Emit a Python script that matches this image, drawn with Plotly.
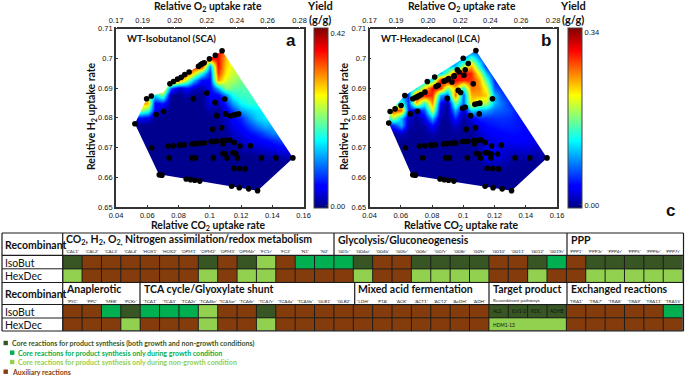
import numpy as np
import plotly.graph_objects as go

W, H = 685, 377

# =====================================
# DATA: yield surfaces (% of colour bar top), rows bottom to top
# =====================================
GRID_X = [0.05, 0.055, 0.06, 0.065, 0.07, 0.075, 0.08, 0.085, 0.09, 0.095, 0.10,
          0.105, 0.11, 0.115, 0.12, 0.125, 0.13, 0.135, 0.14, 0.145, 0.15, 0.155]
GRID_Y = [0.655, 0.6575, 0.66, 0.6625, 0.665, 0.6675, 0.67, 0.6725, 0.675, 0.6775,
          0.68, 0.6825, 0.685, 0.6875, 0.69, 0.6925, 0.695, 0.6975, 0.70, 0.7025]

yield_a = [
    [0] * 22,
    [0] * 22,
    [0] * 22,
    [0] * 22,
    [0] * 22,
    [0, 0, 0, 0, 0, 0, 0, 0, 0, 0, 0, 0, 0, 0, 0, 0, 1, 2, 3, 4, 5, 5],
    [0, 0, 0, 0, 0, 0, 0, 0, 0, 0, 0, 0, 0, 0, 3, 4, 6, 7, 9, 11, 12, 12],
    [0, 0, 0, 0, 0, 0, 0, 0, 0, 0, 0, 0, 0, 3, 5, 8, 10, 12, 15, 18, 18, 18],
    [0, 0, 0, 0, 0, 0, 0, 0, 0, 0, 0, 0, 1, 5, 8, 12, 15, 20, 25, 25, 25, 25],
    [0, 0, 0, 0, 0, 0, 0, 0, 0, 0, 0, 0, 3, 8, 12, 18, 25, 30, 30, 30, 30, 30],
    [10, 10, 8, 0, 0, 0, 0, 0, 0, 0, 0, 0, 5, 12, 15, 25, 33, 36, 36, 36, 36, 36],
    [55, 55, 45, 10, 3, 0, 0, 0, 0, 0, 3, 0, 8, 18, 28, 33, 36, 36, 36, 36, 36, 36],
    [75, 75, 72, 10, 15, 0, 0, 0, 0, 0, 8, 3, 15, 28, 38, 42, 42, 42, 42, 42, 42, 42],
    [60, 60, 45, 35, 50, 0, 0, 3, 0, 0, 10, 10, 25, 40, 44, 44, 44, 44, 44, 44, 44, 44],
    [60, 60, 60, 75, 75, 20, 5, 12, 5, 3, 10, 30, 52, 48, 46, 46, 46, 46, 46, 46, 46, 46],
    [85, 85, 85, 85, 85, 90, 80, 55, 30, 12, 12, 75, 60, 55, 50, 50, 50, 50, 50, 50, 50, 50],
    [90, 90, 90, 90, 90, 90, 90, 85, 65, 40, 15, 85, 65, 58, 55, 55, 55, 55, 55, 55, 55, 55],
    [90, 90, 90, 90, 90, 90, 90, 90, 90, 90, 25, 90, 68, 60, 60, 60, 60, 60, 60, 60, 60, 60],
    [90, 90, 90, 90, 90, 90, 90, 90, 90, 90, 90, 90, 70, 60, 60, 60, 60, 60, 60, 60, 60, 60],
    [90, 90, 90, 90, 90, 90, 90, 90, 90, 90, 90, 90, 75, 60, 60, 60, 60, 60, 60, 60, 60, 60],
]

yield_b = [
    [0] * 22,
    [0] * 22,
    [0] * 22,
    [0] * 22,
    [0, 0, 0, 0, 0, 0, 0, 0, 0, 0, 0, 0, 0, 4, 4, 3, 1, 0, 0, 0, 0, 0],
    [0, 0, 0, 0, 0, 0, 0, 0, 0, 0, 0, 0, 2, 12, 10, 6, 3, 3, 3, 2, 2, 2],
    [0, 0, 0, 0, 0, 0, 0, 0, 0, 0, 0, 0, 2, 8, 8, 6, 6, 7, 7, 6, 4, 4],
    [0, 0, 0, 0, 0, 0, 0, 0, 0, 0, 0, 0, 3, 5, 7, 9, 10, 10, 9, 8, 6, 5],
    [0, 0, 5, 0, 0, 0, 3, 0, 0, 1, 0, 0, 5, 8, 10, 11, 12, 12, 10, 8, 7, 7],
    [15, 15, 30, 3, 0, 2, 12, 0, 0, 5, 0, 2, 8, 12, 13, 14, 14, 13, 10, 8, 8, 8],
    [30, 55, 30, 5, 0, 8, 30, 2, 0, 15, 0, 8, 15, 15, 16, 16, 15, 13, 10, 10, 10, 10],
    [35, 85, 80, 12, 8, 20, 60, 5, 0, 30, 3, 35, 30, 28, 22, 20, 18, 12, 10, 10, 10, 10],
    [30, 30, 45, 15, 70, 40, 75, 10, 0, 50, 20, 65, 55, 55, 30, 22, 15, 12, 12, 12, 12, 12],
    [25, 25, 25, 15, 88, 88, 85, 30, 20, 80, 20, 72, 72, 68, 30, 18, 14, 14, 14, 14, 14, 14],
    [30, 30, 30, 30, 35, 65, 90, 85, 50, 70, 40, 78, 75, 60, 20, 14, 12, 12, 12, 12, 12, 12],
    [30, 30, 30, 30, 30, 30, 40, 90, 92, 90, 85, 85, 72, 45, 15, 12, 12, 12, 12, 12, 12, 12],
    [30, 30, 30, 30, 30, 30, 30, 30, 50, 85, 92, 85, 60, 30, 12, 12, 12, 12, 12, 12, 12, 12],
    [30, 30, 30, 30, 30, 30, 30, 30, 30, 30, 55, 72, 40, 14, 12, 12, 12, 12, 12, 12, 12, 12],
    [25, 25, 25, 25, 25, 25, 25, 25, 25, 25, 25, 45, 25, 15, 15, 15, 15, 15, 15, 15, 15, 15],
    [20, 20, 20, 20, 20, 20, 20, 20, 20, 20, 20, 20, 20, 15, 15, 15, 15, 15, 15, 15, 15, 15],
]

# phenotype phase plane outlines
hull_a_x = [0.0521, 0.0674, 0.1306, 0.1534, 0.1079, 0.1036, 0.0998, 0.0868, 0.0745, 0.0704, 0.0626, 0.0596]
hull_a_y = [0.6780, 0.6610, 0.6555, 0.6665, 0.7025, 0.7010, 0.6998, 0.6954, 0.6914, 0.6886, 0.6873, 0.6864]
hull_b_x = [0.0523, 0.0670, 0.1309, 0.1536, 0.1081, 0.0626, 0.0532]
hull_b_y = [0.6782, 0.6607, 0.6555, 0.6665, 0.7026, 0.6875, 0.6821]

# black dots
dots_a_x = [0.0521, 0.0596, 0.0626, 0.0657, 0.0704, 0.0745, 0.0768, 0.0794, 0.0817, 0.0840, 0.0868, 0.0894,
            0.0928, 0.0943, 0.0953, 0.0964, 0.0981, 0.0998, 0.1036, 0.1079, 0.1034, 0.1096, 0.1045, 0.1102,
            0.1132, 0.1153, 0.1168, 0.1185, 0.1019, 0.1077,
            0.0734, 0.0766, 0.0804, 0.0819, 0.0836, 0.0885, 0.0906, 0.0932, 0.0949, 0.0966, 0.1009, 0.1026,
            0.1043, 0.1081, 0.1085, 0.1106, 0.1128, 0.1157, 0.1194, 0.1260, 0.0628,
            0.0740, 0.0885, 0.0909, 0.1023, 0.1085, 0.1100, 0.1149, 0.1166, 0.1111, 0.1177, 0.1330, 0.1423, 0.1532,
            0.1155, 0.1189, 0.1226,
            0.0677, 0.0694, 0.0849, 0.0877, 0.0904, 0.0936, 0.1140, 0.1189, 0.1249, 0.1306]
dots_a_y = [0.6780, 0.6864, 0.6873, 0.6811, 0.6821, 0.6914, 0.6922, 0.6930, 0.6936, 0.6945, 0.6954, 0.6864,
            0.6973, 0.6979, 0.6982, 0.6985, 0.6883, 0.6998, 0.7010, 0.7025, 0.6851, 0.6863, 0.6807, 0.6813,
            0.6806, 0.6809, 0.6811, 0.6813, 0.6761, 0.6766,
            0.6705, 0.6706, 0.6708, 0.6708, 0.6709, 0.6712, 0.6713, 0.6714, 0.6715, 0.6715, 0.6720, 0.6720,
            0.6721, 0.6723, 0.6713, 0.6724, 0.6725, 0.6717, 0.6705, 0.6706, 0.6699,
            0.6665, 0.6665, 0.6665, 0.6665, 0.6680, 0.6678, 0.6682, 0.6680, 0.6665, 0.6665, 0.6665, 0.6665, 0.6665,
            0.6630, 0.6629, 0.6628,
            0.6608, 0.6607, 0.6594, 0.6592, 0.6590, 0.6587, 0.6570, 0.6565, 0.6561, 0.6555]

dots_b_x = [0.1081, 0.1000, 0.1032, 0.0523, 0.0532, 0.0564, 0.0602, 0.0626, 0.0662, 0.0706,
            0.0677, 0.0691, 0.0704, 0.0717, 0.0730, 0.0755, 0.0770, 0.0817, 0.0826, 0.0840, 0.0877, 0.0894,
            0.0906, 0.0928, 0.0943, 0.0962, 0.0974, 0.1004, 0.1013, 0.0940, 0.1064, 0.0968, 0.0983, 0.0898,
            0.0996, 0.1013, 0.1074, 0.1089, 0.1106, 0.1187, 0.1047, 0.1102, 0.1019, 0.1079,
            0.0719, 0.0753, 0.0791, 0.0804, 0.0821, 0.0872, 0.0894, 0.0919, 0.0936, 0.0953, 0.0996, 0.1013,
            0.1030, 0.1068, 0.1072, 0.1094, 0.1115, 0.1140, 0.1181, 0.1243, 0.0630,
            0.0740, 0.0887, 0.0911, 0.1026, 0.1085, 0.1100, 0.1140, 0.1153, 0.1164, 0.1181, 0.1219, 0.1111,
            0.1177, 0.1332, 0.1426, 0.1536,
            0.1153, 0.1189, 0.1226,
            0.0677, 0.0694, 0.0851, 0.0879, 0.0906, 0.0940, 0.1140, 0.1191, 0.1249, 0.1309]
dots_b_y = [0.7026, 0.7000, 0.6982, 0.6782, 0.6821, 0.6830, 0.6841, 0.6875, 0.6813, 0.6822,
            0.6864, 0.6867, 0.6870, 0.6874, 0.6878, 0.6886, 0.6922, 0.6937, 0.6905, 0.6909, 0.6923, 0.6927,
            0.6932, 0.6920, 0.6941, 0.6961, 0.6954, 0.6943, 0.6961, 0.6939, 0.6914, 0.6892, 0.6885, 0.6865,
            0.6832, 0.6835, 0.6845, 0.6847, 0.6849, 0.6864, 0.6807, 0.6813, 0.6761, 0.6766,
            0.6705, 0.6706, 0.6708, 0.6708, 0.6709, 0.6712, 0.6713, 0.6714, 0.6715, 0.6715, 0.6720, 0.6720,
            0.6721, 0.6723, 0.6713, 0.6724, 0.6725, 0.6717, 0.6705, 0.6708, 0.6699,
            0.6665, 0.6665, 0.6665, 0.6665, 0.6680, 0.6678, 0.6682, 0.6683, 0.6680, 0.6678, 0.6678, 0.6665,
            0.6665, 0.6665, 0.6665, 0.6665,
            0.6630, 0.6629, 0.6628,
            0.6608, 0.6607, 0.6594, 0.6592, 0.6590, 0.6587, 0.6570, 0.6565, 0.6561, 0.6555]

# axis ticks
co2_ticks = [0.04, 0.06, 0.08, 0.10, 0.12, 0.14, 0.16]
co2_labels = ['0.04', '0.06', '0.08', '0.1', '0.12', '0.14', '0.16']
h2_ticks = [0.65, 0.66, 0.67, 0.68, 0.69, 0.70, 0.71]
h2_labels = ['0.65', '0.66', '0.67', '0.68', '0.69', '0.7', '0.71']
o2_ticks = [0.17, 0.1855, 0.2042, 0.2230, 0.2406, 0.2585, 0.2772]

# =====================================
# DATA: reaction tables (0 auxiliary, 1 both, 2 growth, 3 non-growth)
# =====================================
reactions_top = ["'CAL1'", "'CAL2'", "'CAL3'", "'CAL4'", "'HOX1'", "'HOX2'", "'OPM1'", "'OPM2'", "'OPM3'", "'OPM4r'",
                 "'FC1r'", "'FC2'", "'N1'", "'N2'", "'G01r'", "'G04ar'", "'G04b'", "'G05r'", "'G06r'", "'G07r'",
                 "'G08r'", "'G09r'", "'G010'", "'G011'", "'G012'", "'G019r'", "'PPP1'", "'PPP3r'", "'PPP4r'",
                 "'PPP5'", "'PPP6r'", "'PPP7r'"]
isobut_top = [1, 0, 0, 0, 0, 0, 0, 1, 0, 1, 3, 0, 2, 2, 2, 1, 0, 0, 1, 1, 1, 1, 0, 0, 1, 2, 0, 1, 1, 1, 1, 1]
hexdec_top = [3, 0, 0, 0, 0, 0, 0, 3, 0, 3, 3, 0, 0, 0, 0, 3, 0, 0, 3, 3, 3, 3, 0, 0, 3, 0, 0, 3, 3, 3, 3, 3]

reactions_bottom = ["'PYC'", "'PPC'", "'MEB'", "'PCKr'", "'TCA1'", "'TCA3'", "'TCA2r'", "'TCA4br'", "'TCA5ar'", "'TCA6r'",
                    "'TCA7r'", "'TCA4a'", "'TCA5b'", "'GLB1'", "'GLB2'", "'LDH'", "'PTA'", "'ACK'", "'ACT1'", "'ACT2'",
                    "'AcDH'", "'ADH'", None, None, None, None, "'TRA1'", "'TRA7'", "'TRA8'", "'TRA9'", "'TRA11'", "'TRA15'"]
isobut_bottom = [0, 0, 2, 1, 2, 2, 2, 3, 0, 0, 1, 0, 0, 0, 0, 0, 0, 0, 0, 0, 0, 0, 1, 1, 1, 1, 0, 0, 0, 0, 0, 2]
hexdec_bottom = [0, 0, 0, 3, 0, 0, 0, 3, 0, 0, 3, 0, 0, 0, 0, 0, 0, 0, 0, 0, 0, 0, 3, 3, 3, 3, 0, 0, 0, 0, 0, 0]
target_genes = ['ALS', 'ILV1-2', 'KDC', 'ADHB']

BROWN, DARK, GREEN, LIGHT = '#843C0C', '#375623', '#00B050', '#92D050'
TEXT_FONT = 'Lato'
TICK_FONT = 'Liberation Sans'
JET = [[0, '#00007f'], [0.11, '#0000ff'], [0.125, '#0000ff'], [0.375, '#00ffff'], [0.625, '#ffff00'],
       [0.875, '#ff0000'], [1, '#7f0000']]


def fx(px):
    return px / W


def fy(py):
    return 1 - py / H


def grid_lines(merged_bottom=False):
    xs, ys = [], []
    for b in range(33):
        edge = b - 0.5
        if merged_bottom and b in (23, 24, 25):
            xs += [edge, edge, None]
            ys += [-0.5, 0.5, None]
        else:
            xs += [edge, edge, None]
            ys += [-0.5, 1.5, None]
    for r in (-0.5, 0.5, 1.5):
        xs += [-0.5, 31.5, None]
        ys += [r, r, None]
    return xs, ys


fig = go.Figure()

# =====================================
# Phase plane panels
# =====================================
panels = [
    dict(z=yield_a, top=0.42, zmin=-0.0057, zmax=0.432, hx=hull_a_x, hy=hull_a_y, dx=dots_a_x, dy=dots_a_y,
         xa='x', ya='y', bar=313.7),
    dict(z=yield_b, top=0.34, zmin=-0.0066, zmax=0.348, hx=hull_b_x, hy=hull_b_y, dx=dots_b_x, dy=dots_b_y,
         xa='x2', ya='y2', bar=567.7),
]
for p in panels:
    fig.add_trace(go.Heatmap(
        x=GRID_X, y=GRID_Y, z=np.array(p['z']) * p['top'] / 100, xaxis=p['xa'], yaxis=p['ya'],
        colorscale=JET, zmin=p['zmin'], zmax=p['zmax'], zsmooth='best',
        colorbar=dict(x=fx(p['bar']), xanchor='left', xpad=0, ypad=0, y=fy(28.3), yanchor='top',
                      len=179.7 / H, thickness=14.3, outlinecolor='#444', outlinewidth=1, borderwidth=0,
                      ticks='inside', ticklen=3, tickcolor='#333', tickvals=[0, p['top']],
                      ticktext=['0.00', f"{p['top']:.2f}"],
                      tickfont=dict(family=TICK_FONT, size=7.5, color='#111')),
    ))
    # white cover outside the feasible region (hull runs against the rectangle so it stays a hole)
    x0, x1, y0, y1 = 0.04, 0.16, 0.65, 0.71
    mask_x = [x0, x1, x1, x0, x0] + [p['hx'][0]] + p['hx'][:0:-1] + [p['hx'][0], x0]
    mask_y = [y0, y0, y1, y1, y0] + [p['hy'][0]] + p['hy'][:0:-1] + [p['hy'][0], y0]
    fig.add_trace(go.Scatter(x=mask_x, y=mask_y, xaxis=p['xa'], yaxis=p['ya'], mode='lines', fill='toself',
                             fillcolor='white', line=dict(width=0), hoverinfo='skip', showlegend=False))
    fig.add_trace(go.Scatter(x=p['dx'], y=p['dy'], xaxis=p['xa'], yaxis=p['ya'], mode='markers',
                             marker=dict(color='black', size=5.6), showlegend=False))

axis_font = dict(family=TICK_FONT, size=7.5, color='#111')
frame = dict(showgrid=False, zeroline=False, showline=True, mirror=True, linecolor='#333', linewidth=1.6,
             ticks='inside', ticklen=2, tickcolor='#333', tickfont=axis_font)
fig.update_layout(
    xaxis=dict(domain=[fx(116), fx(303.5)], range=[0.04, 0.16], tickvals=co2_ticks, ticktext=co2_labels,
               anchor='y', **frame),
    yaxis=dict(domain=[fy(207), fy(28.5)], range=[0.65, 0.71], tickvals=h2_ticks, ticktext=h2_labels,
               anchor='x', **frame),
    xaxis2=dict(domain=[fx(369.5), fx(557)], range=[0.04, 0.16], tickvals=co2_ticks, ticktext=co2_labels,
                anchor='y2', **frame),
    yaxis2=dict(domain=[fy(207), fy(28.5)], range=[0.65, 0.71], tickvals=h2_ticks, ticktext=h2_labels,
                anchor='x2', **frame),
)
for name, base, dom in (('xaxis3', 'y', [fx(116), fx(303.5)]), ('xaxis4', 'y2', [fx(369.5), fx(557)])):
    fig.update_layout({name: dict(domain=dom, range=[0.17, 0.2795], anchor=base, overlaying='x' if base == 'y' else 'x2',
                                  side='top', tickvals=o2_ticks, tickformat='.2f', showgrid=False, zeroline=False,
                                  ticks='outside', ticklen=2, tickcolor='white', showline=False, tickfont=axis_font)})
    fig.add_trace(go.Scatter(x=o2_ticks, y=[0.65] * 7, xaxis='x3' if base == 'y' else 'x4', yaxis=base, mode='markers',
                             marker=dict(opacity=0), hoverinfo='skip', showlegend=False))

# =====================================
# Reaction tables
# =====================================
palette = [[0, BROWN], [0.25, BROWN], [0.25, DARK], [0.5, DARK], [0.5, GREEN], [0.75, GREEN], [0.75, LIGHT], [1, LIGHT]]
tables = [
    dict(names=reactions_top, iso=isobut_top, hex=hexdec_top, xa='x5', ya='y5', top=255.4, bottom=282.4, merged=False),
    dict(names=reactions_bottom, iso=isobut_bottom, hex=hexdec_bottom, xa='x6', ya='y6', top=304.6, bottom=331, merged=True),
]
for i, t in enumerate(tables):
    fig.add_trace(go.Heatmap(x=list(range(32)), y=[0, 1], z=[t['iso'], t['hex']], xaxis=t['xa'], yaxis=t['ya'],
                             colorscale=palette, zmin=0, zmax=3, showscale=False))
    xs, ys = grid_lines(t['merged'])
    fig.add_trace(go.Scatter(x=xs, y=ys, xaxis=t['xa'], yaxis=t['ya'], mode='lines',
                             line=dict(color='#1c1c1c', width=1), hoverinfo='skip', showlegend=False))
    suffix = str(i + 5)
    named = [c for c, n in enumerate(t['names']) if n]
    fig.update_layout({
        'xaxis' + suffix: dict(domain=[fx(62.7), fx(682.6)], range=[-0.5, 31.5], anchor='y' + suffix, side='top',
                               tickvals=named, ticktext=[t['names'][c] for c in named], tickangle=0, ticks='',
                               showgrid=False, zeroline=False, showline=False,
                               tickfont=dict(family=TEXT_FONT, size=4.6, color='#222')),
        'yaxis' + suffix: dict(domain=[fy(t['bottom']), fy(t['top'])], range=[1.5, -0.5], anchor='x' + suffix,
                               showticklabels=False, ticks='', showgrid=False, zeroline=False, showline=False),
    })

# table frame lines
shapes = []
for py in (233, 255.3, 282.5, 304.5, 331):
    shapes.append(dict(type='line', xref='paper', yref='paper', x0=fx(2), x1=fx(683.5), y0=fy(py), y1=fy(py),
                       line=dict(color='#1c1c1c', width=1.2)))
for py in (268.8, 318):
    shapes.append(dict(type='line', xref='paper', yref='paper', x0=fx(2), x1=fx(62.7), y0=fy(py), y1=fy(py),
                       line=dict(color='#1c1c1c', width=1)))
for px in (2, 62.7, 683.5):
    shapes.append(dict(type='line', xref='paper', yref='paper', x0=fx(px), x1=fx(px), y0=fy(233), y1=fy(331),
                       line=dict(color='#1c1c1c', width=1.2)))
for px, top, bottom in ((334, 233, 255.3), (567, 233, 255.3), (140, 282.5, 304.5), (354.7, 282.5, 304.5),
                        (489, 282.5, 304.5), (567, 282.5, 304.5)):
    shapes.append(dict(type='line', xref='paper', yref='paper', x0=fx(px), x1=fx(px), y0=fy(top), y1=fy(bottom),
                       line=dict(color='#1c1c1c', width=1.2)))
# legend swatches
for px, py, color in ((3.5, 343, DARK), (10, 352.7, GREEN), (10, 362, LIGHT), (3.5, 371.7, BROWN)):
    shapes.append(dict(type='rect', xref='paper', yref='paper', x0=fx(px), x1=fx(px + 4.4), y0=fy(py + 2.2), y1=fy(py - 2.2),
                       fillcolor=color, line=dict(width=0)))
fig.update_layout(shapes=shapes)

# =====================================
# Text
# =====================================
annotations = []


def label(text, px, py, size, color='#111', bold=False, anchor='left', angle=0, family=TEXT_FONT):
    annotations.append(dict(text=f'<b>{text}</b>' if bold else text, x=fx(px), y=fy(py), xref='paper', yref='paper',
                            xanchor=anchor, yanchor='middle', showarrow=False, textangle=angle,
                            font=dict(family=family, size=size, color=color)))


for cx, ytitle_x, yield_x in ((208, 92, 320), (461.7, 345, 573)):
    label('Relative O<sub>2</sub> uptake rate', cx, 7, 10.4, bold=True, anchor='center')
    label('Relative CO<sub>2</sub> uptake rate', cx, 226, 10.4, bold=True, anchor='center')
    label('Relative H<sub>2</sub> uptake rate', ytitle_x, 116, 10.4, bold=True, anchor='center', angle=-90)
    label('Yield', yield_x, 6, 11, bold=True, anchor='center')
    label('(g/g)', yield_x, 19.5, 11, bold=True, anchor='center')

label('WT-Isobutanol (SCA)', 125, 39, 9.5, bold=True)
label('WT-Hexadecanol (LCA)', 379, 39, 9.5, bold=True)
label('a', 291, 41, 17, bold=True, anchor='center', family=TICK_FONT)
label('b', 546, 41, 17, bold=True, anchor='center', family=TICK_FONT)
label('c', 670, 210, 17, bold=True, anchor='center', family=TICK_FONT)

label('Recombinant', 3, 245, 10.5, bold=True)
label('Recombinant', 3, 294, 10.5, bold=True)
label('IsoBut', 3, 263, 10.5)
label('HexDec', 3, 276.3, 10.5)
label('IsoBut', 3, 312, 10.5)
label('HexDec', 3, 325, 10.5)

label('CO<sub>2</sub>, H<sub>2</sub>, O<sub>2,</sub> Nitrogen assimilation/redox metabolism', 64, 240, 10.5, bold=True)
label('Glycolysis/Gluconeogenesis', 336, 240, 10.5, bold=True)
label('PPP', 569, 240, 10.5, bold=True)
label('Anaplerotic', 64, 289, 10.5, bold=True)
label('TCA cycle/Glyoxylate shunt', 142, 289, 10.5, bold=True)
label('Mixed acid fermentation', 356, 289, 10.5, bold=True)
label('Target product', 491, 289, 10.5, bold=True)
label('Exchanged reactions', 569, 289, 10.5, bold=True)
label('Recombinant pathways', 491, 299.5, 4.6, color='#222')

for gene, px in zip(target_genes, (490.5, 509.5, 529, 548)):
    label(gene, px, 311, 4.8, color='#111')
label('HDM1-13', 490.5, 324.5, 4.8, color='#111')

label('Core reactions for product synthesis (both growth and non-growth conditions)', 10, 343, 7.0, color=DARK, bold=True)
label('Core reactions for product synthesis only during growth condition', 16, 352.7, 7.0, color=GREEN, bold=True)
label('Core reactions for product synthesis only during non-growth condition', 16, 362, 7.0, color=LIGHT, bold=True)
label('Auxiliary reactions', 10, 371.7, 7.0, color=BROWN, bold=True)

fig.update_layout(annotations=annotations, width=W, height=H,
                  margin=dict(l=0, r=0, t=0, b=0, pad=0, autoexpand=False),
                  paper_bgcolor='white', plot_bgcolor='white', showlegend=False)

fig.write_html("out.html", config={'displayModeBar': False}, post_script="document.body.style.margin='0';")
